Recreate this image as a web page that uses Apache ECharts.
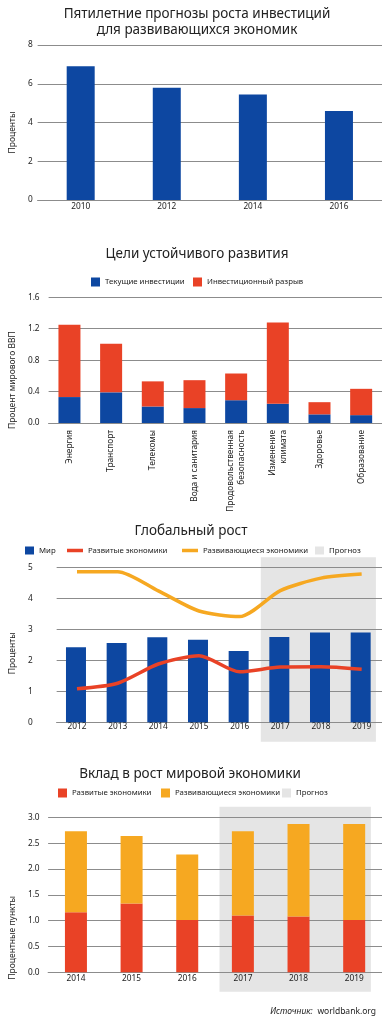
<!DOCTYPE html>
<html><head><meta charset="utf-8">
<script src="https://cdn.jsdelivr.net/npm/echarts@6/dist/echarts.min.js"></script>
<style>html,body{margin:0;padding:0;background:#fff}#c{width:382px;height:1024px}</style>
</head><body><div id="c"></div>
<script>
// ---- Data ----
const years1 = ['2010', '2012', '2014', '2016'];
const investForecast = [6.9, 5.8, 5.45, 4.6];

const sdgCategories = ['Энергия', 'Транспорт', 'Телекомы', 'Вода и санитария', 'Продовольственная\nбезопасность', 'Изменение\nклимата', 'Здоровье', 'Образование'];
const sdgCurrent = [0.33, 0.39, 0.21, 0.19, 0.29, 0.245, 0.11, 0.10];
const sdgGap = [0.92, 0.62, 0.32, 0.355, 0.34, 1.035, 0.155, 0.335];

const years3 = ['2012', '2013', '2014', '2015', '2016', '2017', '2018', '2019'];
const growthWorld = [2.42, 2.56, 2.74, 2.66, 2.30, 2.75, 2.90, 2.90];
const growthAdvanced = [1.08, 1.26, 1.88, 2.15, 1.63, 1.78, 1.79, 1.71];
const growthEmerging = [4.86, 4.86, 4.24, 3.59, 3.41, 4.25, 4.65, 4.78];

const years4 = ['2014', '2015', '2016', '2017', '2018', '2019'];
const contribAdvanced = [1.16, 1.33, 1.01, 1.10, 1.08, 1.01];
const contribEmerging = [1.57, 1.31, 1.27, 1.63, 1.79, 1.86];

const forecastFirst = '2017';
const forecastLast = '2019';

// ---- Style ----
const BLUE = '#0d47a1', RED = '#e94226', ORANGE = '#f6a821', GREY = '#e5e5e5';
const GRID_LINE = '#8c8c8c', TXT = '#222';
const FONT = 'Noto Sans';
const TITLE_SIZE = 13.5, LEG_SIZE = 7.8, TICK_SIZE = 8.3;

const chart = echarts.init(document.getElementById('c'), null, {renderer: 'canvas'});

function lg(name, left, cy, w, h) {
  return {data: [name], left: left, top: cy - 5.5, itemWidth: w, itemHeight: h, icon: 'rect',
    padding: 0, selectedMode: false, textStyle: {fontSize: LEG_SIZE, color: TXT, fontFamily: FONT}};
}
function xAx(grid, data, labelExtra) {
  return {type: 'category', gridIndex: grid, data: data,
    axisLine: {lineStyle: {color: GRID_LINE, width: 1}}, axisTick: {show: false},
    axisLabel: Object.assign({fontSize: TICK_SIZE, color: TXT, fontFamily: FONT, margin: 3}, labelExtra || {})};
}
function yAx(grid, max, interval, name, nameGap, shift, labelMargin, fmt) {
  return {type: 'value', gridIndex: grid, min: 0, max: max, interval: interval,
    name: name, nameLocation: 'middle', nameGap: nameGap,
    nameTextStyle: {fontSize: 8.5, color: TXT, fontFamily: FONT, padding: [0, shift, 0, 0]},
    axisLine: {show: false}, axisTick: {show: false},
    axisLabel: {fontSize: TICK_SIZE, color: TXT, fontFamily: FONT, margin: labelMargin, formatter: fmt},
    splitLine: {lineStyle: {color: GRID_LINE, width: 1}}};
}
const f1 = v => v.toFixed(1);
const f0 = v => String(v);
function ttl(text, cx, top) {
  return {text: text, left: cx, top: top, textAlign: 'center', padding: 0,
    textStyle: {fontSize: TITLE_SIZE, fontWeight: 'normal', color: TXT, lineHeight: 16, fontFamily: FONT}};
}

const option = {
  animation: false,
  textStyle: {fontFamily: FONT},
  title: [
    ttl('Пятилетние прогнозы роста инвестиций\nдля развивающихся экономик', 197, 6),
    ttl('Цели устойчивого развития', 197, 246),
    ttl('Глобальный рост', 191, 523),
    ttl('Вклад в рост мировой экономики', 190, 766),
    {text: '{i|Источник:} {n|worldbank.org}', right: 6, top: 1003, padding: 0,
      textStyle: {fontWeight: 'normal', rich: {
        i: {fontStyle: 'italic', fontWeight: 'normal', fontSize: 8.5, color: TXT, fontFamily: FONT},
        n: {fontWeight: 'normal', fontSize: 8.5, color: TXT, fontFamily: FONT}}}}
  ],
  legend: [
    lg('Текущие инвестиции', 91, 283, 9, 9),
    lg('Инвестиционный разрыв', 193, 283, 9, 9),
    lg('Мир', 25, 552, 9, 8),
    lg('Развитые экономики', 67, 552, 16, 3.5),
    lg('Развивающиеся экономики', 182, 552, 16, 3.5),
    lg('Прогноз', 315, 552, 9, 8),
    lg('Развитые экономики', 58, 794, 9, 9),
    lg('Развивающиеся экономики', 161, 794, 9, 9),
    lg('Прогноз', 282, 794, 9, 9)
  ],
  grid: [
    {left: 32, top: 45, width: 366, height: 155},
    {left: 41.5, top: 297.3, width: 344, height: 125.7},
    {left: 41.6, top: 567.3, width: 341.7, height: 155},
    {left: 47.6, top: 817.3, width: 340.8, height: 155}
  ],
  xAxis: [
    xAx(0, years1, {margin: 3}),
    xAx(1, sdgCategories, {margin: 7, rotate: 90, interval: 0, lineHeight: 11}),
    xAx(2, years3, {margin: 0.5}),
    xAx(3, years4, {margin: 2})
  ],
  yAxis: [
    yAx(0, 8, 2, 'Проценты', 13.5, 20, 5, f0),
    yAx(1, 1.6, 0.4, 'Процент мирового ВВП', 19, 40, 9, f1),
    yAx(2, 5, 1, 'Проценты', 33, 17, 24, f0),
    yAx(3, 3, 0.5, 'Процентные пункты', 26, 86, 8.5, f1)
  ],
  series: [
    {name: 'Прогнозы', type: 'bar', xAxisIndex: 0, yAxisIndex: 0, data: investForecast, barWidth: 28, itemStyle: {color: BLUE}},

    {name: 'Текущие инвестиции', type: 'bar', stack: 'sdg', xAxisIndex: 1, yAxisIndex: 1, data: sdgCurrent, barWidth: 22, itemStyle: {color: BLUE}},
    {name: 'Инвестиционный разрыв', type: 'bar', stack: 'sdg', xAxisIndex: 1, yAxisIndex: 1, data: sdgGap, barWidth: 22, itemStyle: {color: RED}},

    {name: 'Мир', type: 'bar', xAxisIndex: 2, yAxisIndex: 2, data: growthWorld, barWidth: 20, itemStyle: {color: BLUE}},
    {name: 'Развитые экономики', type: 'line', xAxisIndex: 2, yAxisIndex: 2, data: growthAdvanced, smooth: 0.25, showSymbol: false, z: 5,
      itemStyle: {color: RED}, lineStyle: {color: RED, width: 3.5}},
    {name: 'Развивающиеся экономики', type: 'line', xAxisIndex: 2, yAxisIndex: 2, data: growthEmerging, smooth: 0.25, showSymbol: false, z: 5,
      itemStyle: {color: ORANGE}, lineStyle: {color: ORANGE, width: 3.5}},
    {name: 'Прогноз', type: 'bar', xAxisIndex: 2, yAxisIndex: 2, data: [], itemStyle: {color: GREY}},

    {name: 'Развитые экономики', type: 'bar', stack: 'contrib', xAxisIndex: 3, yAxisIndex: 3, data: contribAdvanced, barWidth: 22, itemStyle: {color: RED}},
    {name: 'Развивающиеся экономики', type: 'bar', stack: 'contrib', xAxisIndex: 3, yAxisIndex: 3, data: contribEmerging, barWidth: 22, itemStyle: {color: ORANGE}}
  ]
};
chart.setOption(option);

// Forecast band, positioned from the axes
function band(ax, maxVal, fracL, fracR, padTop, padBottom) {
  const xs = chart.convertToPixel({xAxisIndex: ax}, forecastFirst);
  const xe = chart.convertToPixel({xAxisIndex: ax}, forecastLast);
  const cats = option.xAxis[ax].data;
  const step = (xe - xs) / (cats.indexOf(forecastLast) - cats.indexOf(forecastFirst));
  const yTop = chart.convertToPixel({yAxisIndex: ax}, maxVal);
  const yBot = chart.convertToPixel({yAxisIndex: ax}, 0);
  const x0 = xs - fracL * step, x1 = xe + fracR * step;
  return {type: 'rect', z: -10, silent: true,
    shape: {x: x0, y: yTop - padTop, width: x1 - x0, height: (yBot + padBottom) - (yTop - padTop)},
    style: {fill: GREY}};
}
chart.setOption({graphic: [band(2, 5, 0.48, 0.35, 10, 19.5), band(3, 3, 0.42, 0.3, 10.5, 19.5)]});
</script></body></html>
